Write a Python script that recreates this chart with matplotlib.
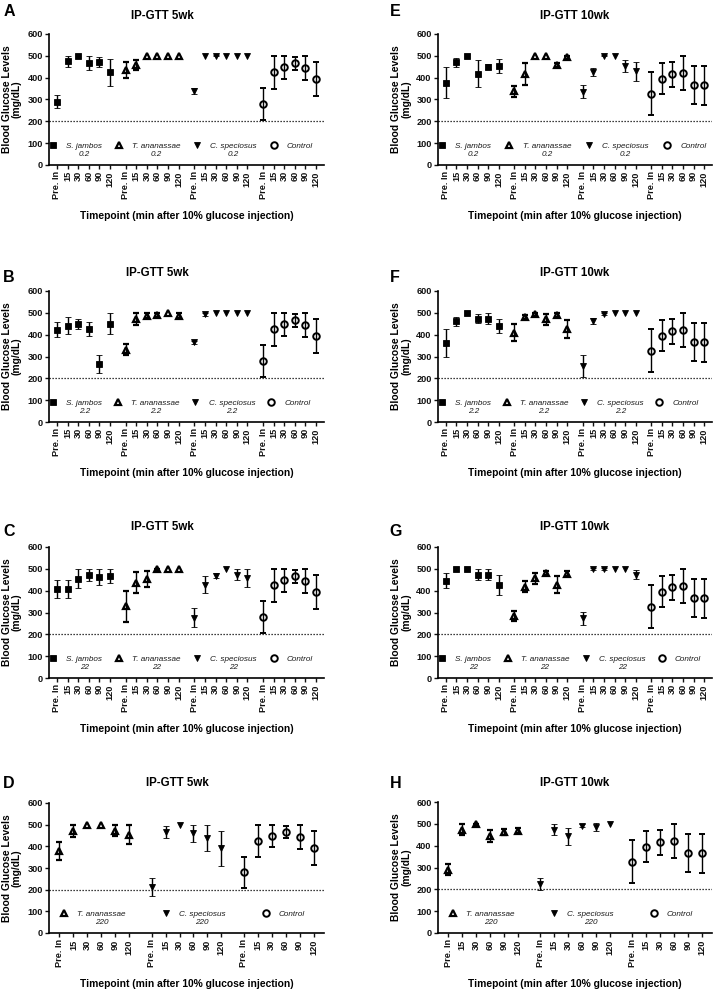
import matplotlib
matplotlib.use("Agg")
import matplotlib.pyplot as plt
import numpy as np
from matplotlib.lines import Line2D
from matplotlib.legend_handler import HandlerLine2D

plt.rcParams["font.family"] = ["Liberation Sans", "DejaVu Sans"]

W, H = 715, 992

timepoints = ["Pre. In", "15", "30", "60", "90", "120"]

# control mice, shared by all panels of the same week
ctrl_5wk = [280, 424, 447, 465, 443, 393]
ctrl_5wk_err = [73, 74, 52, 28, 55, 78]
ctrl_10wk = [327, 395, 415, 423, 367, 365]
ctrl_10wk_err = [99, 70, 57, 78, 88, 88]

# A: 5wk, dose 0.2
sj_a = [290, 475, 500, 467, 472, 424]
sj_a_err = [30, 24, 0, 33, 24, 62]
ta_a = [434, 457, 500, 500, 500, 500]
ta_a_err = [36, 22, 0, 0, 0, 0]
cs_a = [338, 500, 500, 500, 500, 500]
cs_a_err = [15, 0, 3, 0, 0, 0]

# B: 5wk, dose 2.2
sj_b = [423, 440, 450, 425, 266, 450]
sj_b_err = [35, 39, 22, 32, 40, 49]
ta_b = [332, 472, 487, 490, 497, 487]
ta_b_err = [23, 27, 10, 9, 0, 10]
cs_b = [365, 493, 500, 500, 500, 500]
cs_b_err = [8, 6, 0, 0, 0, 0]

# C: 5wk, dose 22
sj_c = [408, 408, 455, 472, 462, 468]
sj_c_err = [43, 43, 44, 27, 37, 31]
ta_c = [328, 437, 453, 497, 497, 497]
ta_c_err = [70, 48, 36, 3, 0, 0]
cs_c = [276, 428, 468, 500, 474, 458]
cs_c_err = [43, 40, 12, 0, 24, 40]

# D: 5wk, dose 220
ta_d = [379, 471, 497, 497, 472, 454]
ta_d_err = [42, 28, 0, 0, 26, 45]
cs_d = [212, 467, 500, 460, 440, 392]
cs_d_err = [40, 27, 0, 40, 60, 81]

# E: 10wk, dose 0.2
sj_e = [376, 470, 500, 417, 451, 453]
sj_e_err = [71, 20, 0, 62, 12, 33]
ta_e = [337, 415, 500, 500, 460, 493]
ta_e_err = [25, 50, 0, 0, 9, 6]
cs_e = [335, 425, 500, 500, 453, 430]
cs_e_err = [30, 18, 3, 0, 29, 43]

# F: 10wk, dose 2.2
sj_f = [362, 461, 500, 474, 473, 440]
sj_f_err = [62, 22, 0, 21, 26, 33]
ta_f = [409, 480, 493, 470, 490, 425]
ta_f_err = [38, 10, 8, 25, 10, 41]
cs_f = [255, 462, 495, 500, 500, 500]
cs_f_err = [50, 13, 5, 0, 0, 0]

# G: 10wk, dose 22
sj_g = [446, 500, 500, 474, 472, 425]
sj_g_err = [36, 0, 0, 24, 25, 45]
ta_g = [285, 418, 456, 483, 428, 477]
ta_g_err = [24, 25, 27, 9, 40, 12]
cs_g = [274, 500, 500, 500, 500, 474]
cs_g_err = [30, 4, 4, 0, 0, 22]

# H: 10wk, dose 220
ta_h = [289, 474, 497, 446, 464, 468]
ta_h_err = [25, 25, 3, 28, 14, 12]
cs_h = [224, 473, 443, 492, 486, 500]
cs_h_err = [26, 24, 40, 7, 17, 0]

# marker style per treatment: (marker, filled, size, edge width)
STYLE = {
    "S. jambos": ("s", True, 4.1, 0.6),
    "T. ananassae": ("^", False, 4.6, 1.6),
    "C. speciosus": ("v", True, 4.8, 0.6),
    "Control": ("o", False, 4.7, 1.4),
}


class RaisedMarker(HandlerLine2D):
    """put the legend marker level with the first line of a two-line label"""
    def create_artists(self, legend, orig_handle, xdescent, ydescent,
                       width, height, fontsize, trans):
        arts = super().create_artists(legend, orig_handle, xdescent, ydescent,
                                      width, height, fontsize, trans)
        for a in arts:
            a.set_ydata(np.asarray(a.get_ydata()) + 0.6 * fontsize)
        return arts


def draw_panel(fig, box, groups, step, title, title_xy, letter, letter_xy, leg_span):
    left, right, top, bottom = box
    ax = fig.add_axes([left / W, 1 - bottom / H, (right - left) / W, (bottom - top) / H])

    ticks, labels, handles, names = [], [], [], []
    for g, (name, dose, mean, err) in enumerate(groups):
        marker, filled, ms, mew = STYLE[name]
        x = g * step + np.arange(len(timepoints))
        err = np.asarray(err, float)
        err = np.where(err > 0, err, np.nan)
        face = "black" if filled else "none"
        ax.errorbar(x, mean, yerr=err, fmt=marker, ms=ms, mfc=face, mec="black",
                    mew=mew, ecolor="black", elinewidth=1.0, capsize=2.5,
                    capthick=1.0, zorder=3)
        ticks.extend(x)
        labels.extend(timepoints)
        handles.append(Line2D([], [], ls="none", marker=marker, ms=ms, mfc=face,
                              mec="black", mew=mew))
        # blank second line keeps "Control" level with the species names
        names.append(name + "\n" + (dose if dose else " "))

    ax.axhline(200, color="black", lw=0.9, ls=(0, (1, 1.4)), zorder=1)

    ax.set_ylim(0, 600)
    ax.set_yticks(range(0, 601, 100))
    ax.set_xlim(-0.75, ticks[-1] + 0.75)
    ax.set_xticks(ticks)
    ax.set_xticklabels(labels, rotation=90)
    for lab in ax.get_xticklabels() + ax.get_yticklabels():
        lab.set_fontweight("bold")
        lab.set_fontsize(6.6)
    ax.tick_params(length=3, width=1.0, pad=1.5, colors="#111111")
    for side in ("top", "right"):
        ax.spines[side].set_visible(False)
    for side in ("left", "bottom"):
        ax.spines[side].set_linewidth(1.2)

    ax.set_ylabel("Blood Glucose Levels\n(mg/dL)", fontsize=7.4, fontweight="bold",
                  linespacing=1.05)
    ax.yaxis.set_label_coords(-27 / (right - left), 0.5)
    ax.set_xlabel("Timepoint (min after 10% glucose injection)", fontsize=7.4,
                  fontweight="bold")
    ax.xaxis.set_label_coords(0.5, -46 / (bottom - top))

    x0, x1 = leg_span
    raised = RaisedMarker()
    leg = ax.legend(handles, names, ncol=len(names), mode="expand", loc="center left",
                    bbox_to_anchor=(x0, 0.112, x1 - x0, 0), frameon=False,
                    borderpad=0, borderaxespad=0, handlelength=1.0, handletextpad=1.1,
                    prop={"size": 5.9, "style": "italic"},
                    handler_map={h: raised for h in handles})
    for t in leg.get_texts():
        t.set_multialignment("center")
        t.set_color("#1a1a1a")

    fig.text(title_xy[0] / W, 1 - title_xy[1] / H, title, ha="center", va="center",
             fontsize=8.3, fontweight="bold")
    fig.text(letter_xy[0] / W, 1 - letter_xy[1] / H, letter, ha="center", va="center",
             fontsize=11.5, fontweight="bold")
    return ax


fig = plt.figure(figsize=(W / 100, H / 100), dpi=100)

LEFT_COL = (49, 324)
RIGHT_COL = (438, 712)

panels = [
    ("A", LEFT_COL, (34, 165), "IP-GTT 5wk", (162, 16), (9, 11), 6.5, (0.0, 0.96),
     [("S. jambos", "0.2", sj_a, sj_a_err), ("T. ananassae", "0.2", ta_a, ta_a_err),
      ("C. speciosus", "0.2", cs_a, cs_a_err), ("Control", "", ctrl_5wk, ctrl_5wk_err)]),
    ("B", LEFT_COL, (291, 422), "IP-GTT 5wk", (157, 273), (9, 277), 6.5, (0.0, 0.95),
     [("S. jambos", "2.2", sj_b, sj_b_err), ("T. ananassae", "2.2", ta_b, ta_b_err),
      ("C. speciosus", "2.2", cs_b, cs_b_err), ("Control", "", ctrl_5wk, ctrl_5wk_err)]),
    ("C", LEFT_COL, (547, 678), "IP-GTT 5wk", (162, 527), (9, 532), 6.5, (0.0, 0.96),
     [("S. jambos", "22", sj_c, sj_c_err), ("T. ananassae", "22", ta_c, ta_c_err),
      ("C. speciosus", "22", cs_c, cs_c_err), ("Control", "", ctrl_5wk, ctrl_5wk_err)]),
    ("D", LEFT_COL, (803, 933), "IP-GTT 5wk", (177, 783), (9, 784), 6.6, (0.04, 0.93),
     [("T. ananassae", "220", ta_d, ta_d_err), ("C. speciosus", "220", cs_d, cs_d_err),
      ("Control", "", ctrl_5wk, ctrl_5wk_err)]),
    ("E", RIGHT_COL, (34, 165), "IP-GTT 10wk", (575, 16), (395, 11), 6.5, (0.0, 0.98),
     [("S. jambos", "0.2", sj_e, sj_e_err), ("T. ananassae", "0.2", ta_e, ta_e_err),
      ("C. speciosus", "0.2", cs_e, cs_e_err), ("Control", "", ctrl_10wk, ctrl_10wk_err)]),
    ("F", RIGHT_COL, (291, 422), "IP-GTT 10wk", (575, 273), (395, 277), 6.5, (0.0, 0.95),
     [("S. jambos", "2.2", sj_f, sj_f_err), ("T. ananassae", "2.2", ta_f, ta_f_err),
      ("C. speciosus", "2.2", cs_f, cs_f_err), ("Control", "", ctrl_10wk, ctrl_10wk_err)]),
    ("G", RIGHT_COL, (547, 678), "IP-GTT 10wk", (575, 527), (396, 532), 6.5, (0.0, 0.96),
     [("S. jambos", "22", sj_g, sj_g_err), ("T. ananassae", "22", ta_g, ta_g_err),
      ("C. speciosus", "22", cs_g, cs_g_err), ("Control", "", ctrl_10wk, ctrl_10wk_err)]),
    ("H", RIGHT_COL, (802, 933), "IP-GTT 10wk", (575, 783), (396, 784), 6.6, (0.04, 0.93),
     [("T. ananassae", "220", ta_h, ta_h_err), ("C. speciosus", "220", cs_h, cs_h_err),
      ("Control", "", ctrl_10wk, ctrl_10wk_err)]),
]

for letter, (l, r), (t, b), title, title_xy, letter_xy, step, span, groups in panels:
    draw_panel(fig, (l, r, t, b), groups, step, title, title_xy, letter, letter_xy, span)

fig.savefig("out.png", dpi=100, facecolor="white")
